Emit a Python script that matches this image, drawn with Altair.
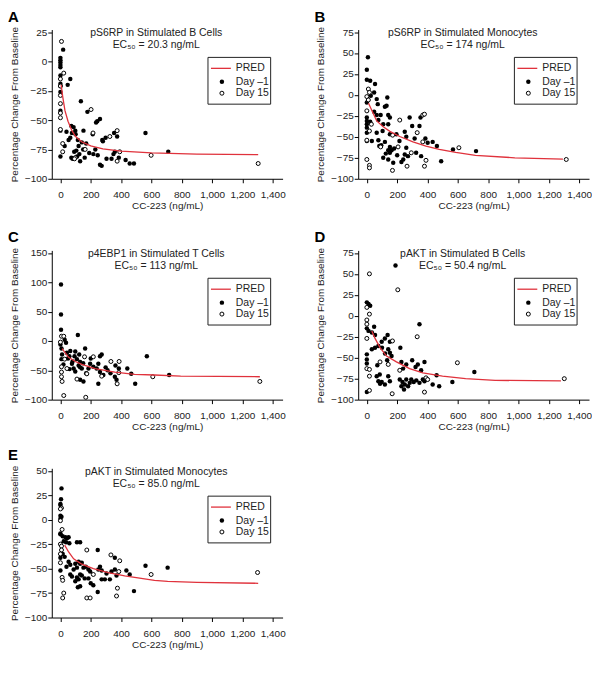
import altair as alt
import pandas as pd

FONT = "Liberation Sans"
RED = "#e0323c"

x_ticks = [0, 200, 400, 600, 800, 1000, 1200, 1400]

# ---------------- Panel A ----------------
a_letter = "A"
a_title = "pS6RP in Stimulated B Cells"
a_ec50 = "EC₅₀ = 20.3 ng/mL"
a_yticks = [25, 0, -25, -50, -75, -100]
a_pred_x = [5, 15, 30, 50, 76, 100, 140, 200, 280, 400, 600, 900, 1304]
a_pred_y = [-20, -30, -42, -51, -59, -64, -68.5, -72, -74.5, -76.5, -78, -79, -79.5]
a_d1_x = [0, 0, 0, 0, 0, 18, 0, 0, 0, 0, 0, 0, 0, 48, 65, 28, 135, 178, 261, 243, 72, 87, 98, 76, 152, 213, 54, 65,
          115, 141, 276, 298, 354, 374, 561, 711, 359, 91, 125, 105, 80, 217, 246, 261, 272, 304, 337, 430, 457, 485,
          72, 130, 110, 160, 190, 230, 170, 120, 150, 350, 385, 40, 100, 235, 280]
a_d1_y = [3, 1, -1, -3, -5, 10, -12, -19, -21, -26, -42, -59, -81, -20, -15, -72, -34, -43, -49, -51, -55, -56, -59,
          -61, -59, -62, -67, -65, -67, -69, -67, -65, -61, -64, -61, -77, -77, -77, -79, -76, -83, -79, -80, -88, -89,
          -83, -83, -84, -87, -87, -82, -85, -81, -82, -78, -75, -70, -72, -75, -79, -82, -60, -62, -52, -68]
a_d15_x = [7, 22, 0, 0, 0, 0, 0, 0, 0, 15, 15, 98, 202, 215, 326, 374, 391, 374, 598, 1304, 163, 93]
a_d15_y = [17, -10, -15, -21, -29, -36, -44, -48, -58, -70, -77, -82, -41, -61, -64, -59, -77, -85, -80, -87, -75, -83]

# ---------------- Panel B ----------------
b_letter = "B"
b_title = "pS6RP in Stimulated Monocytes"
b_ec50 = "EC₅₀ = 174 ng/mL"
b_yticks = [75, 50, 25, 0, -25, -50, -75, -100]
b_pred_x = [11, 65, 108, 152, 217, 304, 390, 477, 586, 716, 976, 1293]
b_pred_y = [-10, -31, -38, -43.5, -49.6, -56, -61, -65, -68.6, -72, -75, -76.5]
b_d1_x = [7, 0, 0, 22, 54, 48, 135, 0, 26, 65, 72, 0, 0, 0, 0, 22, 48, 65, 76, 91, 119, 130, 141, 152, 108, 65, 104,
          141, 152, 195, 282, 250, 260, 299, 347, 354, 315, 386, 401, 434, 462, 568, 720, 490, 0, 33, 76, 82, 119, 152,
          163, 152, 125, 141, 260, 271, 250, 325, 358, 228, 174, 141, 108, 0, 95, 180, 200, 240, 215]
b_d1_y = [45, 30, 18, 17, 13, 3, -3, -9, -1, -5, -11, -27, -31, -35, -39, -32, -20, -24, -30, -24, -14, -13, -24, -27,
          -35, -45, -43, -35, -47, -47, -27, -44, -50, -37, -37, -27, -52, -52, -57, -56, -61, -65, -67, -79, -55, -55,
          -54, -61, -56, -62, -66, -69, -70, -66, -63, -73, -71, -69, -73, -80, -81, -77, -75, -45, -60, -64, -72, -77,
          -55]
b_d15_x = [10, 17, 0, 10, 0, 17, 217, 369, 380, 332, 369, 0, 91, 206, 293, 390, 265, 380, 169, 0, 17, 17, 607, 1315,
           30, 170]
b_d15_y = [7, 3, -2, -6, -19, -43, -30, -24, -23, -45, -56, -54, -62, -62, -69, -78, -85, -85, -90, -77, -84, -87, -63,
           -77, -35, -48]

# ---------------- Panel C ----------------
c_letter = "C"
c_title = "p4EBP1 in Stimulated T Cells"
c_ec50 = "EC₅₀ = 113 ng/mL"
c_yticks = [150, 100, 50, 0, -50, -100]
c_pred_x = [11, 54, 98, 141, 228, 359, 489, 620, 793, 1315]
c_pred_y = [-13, -28, -35, -40, -47, -53, -57, -58, -60, -61]
c_d1_x = [4, 4, 4, 28, 37, 115, 0, 7, 11, 7, 43, 65, 59, 93, 98, 109, 124, 163, 130, 76, 120, 130, 141, 87, 98, 130,
          152, 185, 196, 217, 261, 272, 250, 239, 261, 283, 250, 311, 298, 363, 385, 359, 370, 441, 467, 493, 570, 717,
          50, 80, 150, 170, 200, 330, 20, 60]
c_d1_y = [96, 45, 19, 2, -3, 10, -6, -13, -23, -31, -20, -17, -26, -26, -18, -31, -23, -13, -36, -39, -42, -45, -47,
          -47, -52, -66, -69, -47, -39, -44, -26, -23, -39, -47, -53, -58, -73, -50, -45, -42, -47, -61, -66, -47, -56,
          -73, -26, -58, -30, -35, -38, -55, -30, -55, -40, -48]
c_d15_x = [7, 22, 28, 43, 7, 7, 7, 11, 22, 167, 109, 174, 159, 217, 272, 333, 387, 385, 374, 609, 1315, 0]
c_d15_y = [8, 8, -31, -47, -44, -53, -61, -69, -93, -96, -65, -56, -27, -27, -60, -35, -35, -54, -73, -61, -69, -2]

# ---------------- Panel D ----------------
d_letter = "D"
d_title = "pAKT in Stimulated B Cells"
d_ec50 = "EC₅₀ = 50.4 ng/mL"
d_yticks = [75, 50, 25, 0, -25, -50, -75, -100]
d_pred_x = [33, 54, 87, 130, 195, 282, 369, 499, 651, 846, 1280]
d_pred_y = [-18, -27, -38, -48, -55, -63, -68, -72, -75, -77, -77.7]
d_d1_x = [189, 0, 11, 22, 0, 11, 48, 33, 54, 347, 137, 119, 98, 152, 76, 33, 54, 221, 141, 152, 163, 0, 0, 0, 0, 69,
          134, 299, 228, 239, 260, 321, 336, 380, 358, 709, 564, 477, 434, 460, 65, 76, 87, 98, 119, 141, 152, 217, 235,
          250, 260, 272, 283, 293, 309, 326, 347, 228, 245, 369, 380, 100, 120, 85]
d_d1_y = [60, 16, 14, 12, -15, -18, -13, -20, -23, -10, -23, -27, -31, -31, -36, -40, -38, -38, -40, -44, -48, -46,
          -52, -57, -91, -59, -53, -53, -55, -63, -58, -61, -58, -55, -65, -67, -79, -84, -82, -71, -72, -78, -81, -79,
          -82, -72, -78, -76, -79, -82, -76, -84, -80, -76, -79, -77, -80, -84, -88, -76, -78, -38, -45, -70]
d_d15_x = [17, 204, 0, 17, 0, 0, 0, 332, 169, 0, 17, 17, 17, 87, 141, 597, 390, 401, 380, 167, 217, 1302]
d_d15_y = [50, 31, 10, 2, -5, -10, -27, -25, -30, -63, -64, -72, -89, -55, -58, -56, -74, -76, -91, -93, -65, -75]

# ---------------- Panel E ----------------
e_letter = "E"
e_title = "pAKT in Stimulated Monocytes"
e_ec50 = "EC₅₀ = 85.0 ng/mL"
e_yticks = [50, 25, 0, -25, -50, -75, -100]
e_pred_x = [28, 54, 87, 141, 217, 315, 424, 533, 620, 707, 900, 1304]
e_pred_y = [-26, -33, -40, -45.5, -50, -54, -57.5, -60, -62, -63, -64, -65]
e_d1_x = [7, 4, 0, 0, 0, 7, 0, 0, 0, 15, 33, 43, 54, 22, 37, 59, 109, 130, 246, 0, 15, 28, 54, 65, 120, 130, 98, 109,
          141, 152, 167, 185, 196, 87, 65, 76, 109, 120, 130, 141, 98, 115, 130, 246, 217, 185, 250, 261, 272, 359, 337,
          359, 370, 304, 326, 272, 293, 435, 457, 485, 561, 707, 0, 40, 160, 200]
e_d1_y = [32, 21, 16, 15, 4, 3, 1, -14, -15, -17, -18, -19, -18, -22, -23, -24, -23, -23, -31, -39, -35, -38, -43,
          -46, -43, -45, -45, -49, -44, -49, -48, -51, -53, -51, -56, -58, -59, -61, -56, -57, -63, -69, -68, -74, -67,
          -60, -51, -48, -52, -39, -53, -51, -57, -55, -61, -61, -61, -52, -56, -73, -47, -49, -52, -48, -60, -65]
e_d15_x = [7, 0, 0, 11, 0, 7, 7, 174, 0, 217, 333, 391, 385, 376, 370, 598, 11, 15, 22, 15, 174, 196, 1300, 0]
e_d15_y = [12, 11, -1, -10, -25, -27, -31, -31, -44, -56, -36, -42, -53, -70, -78, -56, -59, -62, -75, -80, -80, -80,
           -54, -35]

W, H = 232, 150
ONE = alt.Data(values=[{"k": 0}])


def panel(letter, title, ec50, yticks, pred_x, pred_y, d1x, d1y, d15x, d15y):
    ytop = yticks[0] + (yticks[0] - yticks[-1]) * 0.017
    xs = alt.Scale(domain=[-57, 1465], nice=False, zero=False)
    ys = alt.Scale(domain=[-100, ytop], nice=False, zero=False)
    xax = alt.Axis(values=x_ticks, format=",d", title="CC-223 (ng/mL)",
                   labelOverlap=False, labelFlush=False, labelBound=False, tickCount=len(x_ticks))
    yax = alt.Axis(values=yticks, format="d", title="Percentage Change From Baseline",
                   labelOverlap=False, labelFlush=False, labelBound=False, tickCount=len(yticks))
    xenc = alt.X("conc:Q", scale=xs, axis=xax)
    yenc = alt.Y("val:Q", scale=ys, axis=yax)

    d1 = pd.DataFrame({"conc": d1x, "val": d1y})
    d15 = pd.DataFrame({"conc": d15x, "val": d15y})
    pred = pd.DataFrame({"conc": pred_x, "val": pred_y})

    filled = alt.Chart(d1).mark_point(shape="circle", filled=True, color="black", size=20, opacity=1).encode(
        x=xenc, y=yenc)
    opened = alt.Chart(d15).mark_point(shape="circle", fill="white", stroke="black", strokeWidth=1,
                                       size=16, opacity=1, fillOpacity=1).encode(x=xenc, y=yenc)
    line = alt.Chart(pred).mark_line(color=RED, strokeWidth=1.3).encode(x=xenc, y=yenc)

    let = alt.Chart(ONE).mark_text(text=letter, font=FONT, fontSize=15, fontWeight="bold", color="black",
                                   align="left", baseline="alphabetic").encode(
        x=alt.value(-44), y=alt.value(-8))
    t1 = alt.Chart(ONE).mark_text(text=title, font=FONT, fontSize=10.5, color="#222",
                                  align="center", baseline="middle").encode(
        x=alt.value(105), y=alt.value(3.5))
    t2 = alt.Chart(ONE).mark_text(text=ec50, font=FONT, fontSize=10.5, color="#222",
                                  align="center", baseline="middle").encode(
        x=alt.value(105), y=alt.value(16))

    box = alt.Chart(ONE).mark_rect(fill="white", stroke="#222", strokeWidth=1).encode(
        x=alt.value(157), x2=alt.value(220), y=alt.value(28), y2=alt.value(75))
    lg_line = alt.Chart(ONE).mark_rule(color=RED, strokeWidth=1.3).encode(
        x=alt.value(160), x2=alt.value(180), y=alt.value(39))
    lg_f = alt.Chart(ONE).mark_point(shape="circle", filled=True, color="black", size=20, opacity=1).encode(
        x=alt.value(171), y=alt.value(52.5))
    lg_o = alt.Chart(ONE).mark_point(shape="circle", fill="white", stroke="black", strokeWidth=1,
                                     size=16, opacity=1).encode(x=alt.value(171), y=alt.value(64))
    labels = []
    for txt, yy in [("PRED", 39), ("Day –1", 52.5), ("Day 15", 64)]:
        labels.append(alt.Chart(ONE).mark_text(text=txt, font=FONT, fontSize=10.5, color="#222",
                                               align="left", baseline="middle").encode(
            x=alt.value(185), y=alt.value(yy)))

    return alt.layer(filled, opened, line, let, t1, t2, box, lg_line, lg_f, lg_o, *labels).properties(
        width=W, height=H)


pA = panel(a_letter, a_title, a_ec50, a_yticks, a_pred_x, a_pred_y, a_d1_x, a_d1_y, a_d15_x, a_d15_y)
pB = panel(b_letter, b_title, b_ec50, b_yticks, b_pred_x, b_pred_y, b_d1_x, b_d1_y, b_d15_x, b_d15_y)
pC = panel(c_letter, c_title, c_ec50, c_yticks, c_pred_x, c_pred_y, c_d1_x, c_d1_y, c_d15_x, c_d15_y)
pD = panel(d_letter, d_title, d_ec50, d_yticks, d_pred_x, d_pred_y, d_d1_x, d_d1_y, d_d15_x, d_d15_y)
pE = panel(e_letter, e_title, e_ec50, e_yticks, e_pred_x, e_pred_y, e_d1_x, e_d1_y, e_d15_x, e_d15_y)

row1 = alt.hconcat(pA, pB, spacing=29)
row2 = alt.hconcat(pC, pD, spacing=29)
chart = alt.vconcat(row1, alt.vconcat(row2, pE, spacing=17), spacing=20).properties(padding=0)

chart = chart.configure_view(stroke=None).configure_axis(
    domainColor="black", tickColor="black", labelColor="#222", titleColor="#222",
    labelFont=FONT, titleFont=FONT, labelFontSize=10, titleFontSize=10,
    titleFontWeight="normal", tickSize=4, grid=False, domainWidth=1, tickWidth=1,
    labelOverlap=False
).configure_axisX(labelPadding=7, titlePadding=1).configure_axisY(
    labelPadding=1, titlePadding=5
)

chart.save("out.html", embed_options={"renderer": "svg", "actions": False})
